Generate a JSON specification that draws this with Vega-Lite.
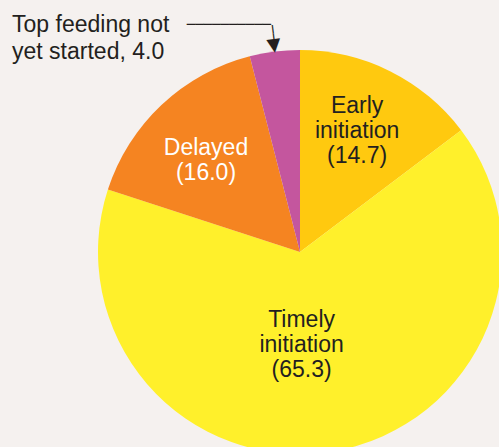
{
  "$schema": "https://vega.github.io/schema/vega-lite/v6.json",
  "width": 398,
  "height": 390,
  "autosize": "none",
  "padding": {"left": 101, "top": 57, "right": 0, "bottom": 0},
  "background": "#f5f1ef",
  "view": {"stroke": null},
  "data": {
    "values": [
      {"cat": "Early initiation", "value": 14.7, "ord": 1, "label": "Early\ninitiation\n(14.7)"},
      {"cat": "Timely initiation", "value": 65.3, "ord": 2, "label": "Timely\ninitiation\n(65.3)"},
      {"cat": "Delayed", "value": 16.0, "ord": 3, "label": "Delayed\n(16.0)"},
      {"cat": "Top feeding not yet started", "value": 4.0, "ord": 4, "label": "Top feeding not\nyet started, 4.0"}
    ]
  },
  "encoding": {
    "theta": {"field": "value", "type": "quantitative", "stack": true},
    "order": {"field": "ord", "type": "quantitative"},
    "detail": {"field": "cat", "type": "nominal"}
  },
  "layer": [
    {
      "mark": {"type": "arc", "outerRadius": 202},
      "encoding": {
        "color": {
          "field": "cat",
          "type": "nominal",
          "scale": {
            "domain": ["Early initiation", "Timely initiation", "Delayed", "Top feeding not yet started"],
            "range": ["#ffc90f", "#fff02b", "#f58421", "#c4569e"]
          },
          "legend": null
        }
      }
    },
    {
      "mark": {"type": "text", "radius": 135, "dx": -3, "dy": -25, "font": "Liberation Sans", "fontSize": 23, "lineHeight": 25, "lineBreak": "\n", "color": "#231f20", "align": "center", "baseline": "middle"},
      "encoding": {
        "text": {"field": "label", "type": "nominal"},
        "opacity": {"condition": {"test": "datum.cat === 'Early initiation'", "value": 1}, "value": 0}
      }
    },
    {
      "mark": {"type": "text", "radius": 94, "dx": -14, "dy": -25, "font": "Liberation Sans", "fontSize": 23, "lineHeight": 25, "lineBreak": "\n", "color": "#231f20", "align": "center", "baseline": "middle"},
      "encoding": {
        "text": {"field": "label", "type": "nominal"},
        "opacity": {"condition": {"test": "datum.cat === 'Timely initiation'", "value": 1}, "value": 0}
      }
    },
    {
      "mark": {"type": "text", "radius": 130, "dx": -5, "dy": -9.5, "font": "Liberation Sans", "fontSize": 23, "lineHeight": 25, "lineBreak": "\n", "color": "#ffffff", "align": "center", "baseline": "middle"},
      "encoding": {
        "text": {"field": "label", "type": "nominal"},
        "opacity": {"condition": {"test": "datum.cat === 'Delayed'", "value": 1}, "value": 0}
      }
    },
    {
      "mark": {"type": "text", "radius": 231, "dx": -259, "dy": 2, "font": "Liberation Sans", "fontSize": 23, "lineHeight": 27, "lineBreak": "\n", "color": "#231f20", "align": "left", "baseline": "middle"},
      "encoding": {
        "text": {"field": "label", "type": "nominal"},
        "opacity": {"condition": {"test": "datum.cat === 'Top feeding not yet started'", "value": 1}, "value": 0}
      }
    },
    {
      "mark": {"type": "text", "radius": 231, "dy": 2.5, "font": "DejaVu Sans", "fontSize": 14, "color": "#231f20", "align": "right", "baseline": "middle", "text": "──────────"},
      "encoding": {
        "opacity": {"condition": {"test": "datum.cat === 'Top feeding not yet started'", "value": 1}, "value": 0}
      }
    },
    {
      "mark": {"type": "text", "radius": 228.5, "angle": 82.8, "font": "DejaVu Sans", "fontSize": 14, "color": "#231f20", "align": "left", "baseline": "middle", "text": "──"},
      "encoding": {
        "opacity": {"condition": {"test": "datum.cat === 'Top feeding not yet started'", "value": 1}, "value": 0}
      }
    },
    {
      "mark": {"type": "text", "radius": 208, "angle": -7.2, "font": "DejaVu Sans", "fontSize": 18, "color": "#231f20", "align": "center", "baseline": "middle", "text": "▼"},
      "encoding": {
        "opacity": {"condition": {"test": "datum.cat === 'Top feeding not yet started'", "value": 1}, "value": 0}
      }
    }
  ]
}
